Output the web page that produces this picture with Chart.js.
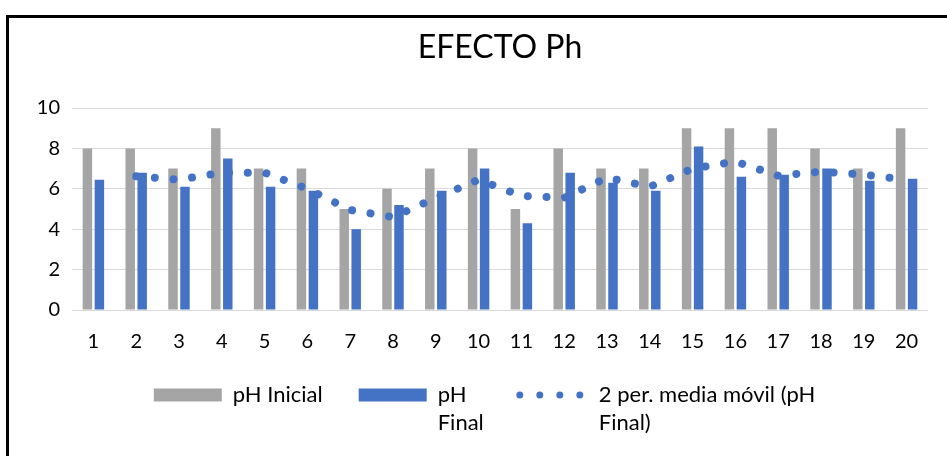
<!DOCTYPE html>
<html>
<head>
<meta charset="utf-8">
<script src="https://cdn.jsdelivr.net/npm/chart.js@4.4.1/dist/chart.umd.min.js"></script>
<style>
  html, body { margin: 0; padding: 0; background: #fff; overflow: hidden; }
  #wrap { position: relative; width: 947px; height: 456px; }
  #frame { position: absolute; left: 6px; top: 15px; width: 1000px; height: 500px;
           border: 3px solid #000; pointer-events: none; }
  canvas { position: absolute; left: 0; top: 0; }
</style>
</head>
<body>
<div id="wrap">
  <canvas id="myChart" width="947" height="456"></canvas>
  <div id="frame"></div>
</div>
<script>
// EFECTO Ph - pH inicial / final por muestra
const muestras = ['1','2','3','4','5','6','7','8','9','10','11','12','13','14','15','16','17','18','19','20'];
const phInicial = [8, 8, 7, 9, 7, 7, 5, 6, 7, 8, 5, 8, 7, 7, 9, 9, 9, 8, 7, 9];
const phFinal = [6.45, 6.8, 6.1, 7.5, 6.1, 5.9, 4.0, 5.2, 5.9, 7.0, 4.3, 6.8, 6.3, 5.9, 8.1, 6.6, 6.7, 7.0, 6.4, 6.5];
// media movil 2 periodos (no hay valor en el 1)
const mediaMovil = [null, 6.62, 6.45, 6.8, 6.8, 6.0, 4.95, 4.6, 5.55, 6.45, 5.65, 5.55, 6.55, 6.1, 7.0, 7.35, 6.65, 6.85, 6.7, 6.45];
const yTicks = [0, 2, 4, 6, 8, 10];

const GRIS = '#A5A5A5';
const AZUL = '#4472C4';
const fuente = 'Lato, Carlito, Calibri, sans-serif';

// texto de leyenda en varias lineas; el ancho se mide con la linea mas larga
function lineas(arr) {
  arr.toString = () => arr.reduce((a, b) => (a.length > b.length ? a : b));
  return arr;
}

// titulo centrado sobre el area del grafico, y la leyenda sin recortar la 2a linea
const ajustes = {
  id: 'ajustes',
  afterLayout(chart) {
    if (chart.titleBlock) {
      chart.titleBlock.left = chart.chartArea.left;
      chart.titleBlock.right = chart.chartArea.right;
    }
    if (chart.legend) {
      chart.legend.left = 41;
      chart.legend.bottom = chart.height;
    }
  }
};

var ctx = document.getElementById('myChart').getContext('2d');
var chart = new Chart(ctx, {
  type: 'bar',
  data: {
    labels: muestras,
    datasets: [
      {
        type: 'line',
        label: '2 per. media móvil (pH Final)',
        data: mediaMovil,
        borderColor: AZUL,
        borderWidth: 8,
        borderDash: [0.01, 18.7],
        borderCapStyle: 'round',
        pointRadius: 0,
        tension: 0,
        fill: false,
        order: 0
      },
      {
        label: 'pH Inicial',
        data: phInicial,
        backgroundColor: GRIS,
        categoryPercentage: 0.56,
        barPercentage: 0.79,
        order: 1
      },
      {
        label: 'pH Final',
        data: phFinal,
        backgroundColor: AZUL,
        categoryPercentage: 0.56,
        barPercentage: 0.79,
        order: 1
      }
    ]
  },
  plugins: [ajustes],
  options: {
    responsive: false,
    animation: false,
    layout: { padding: { left: 30, right: 19, top: 0, bottom: 40 } },
    plugins: {
      tooltip: { enabled: false },
      title: {
        display: true,
        text: 'EFECTO Ph',
        color: '#000',
        font: { family: fuente, size: 32, weight: 'normal', lineHeight: 1.2 },
        padding: { top: 28, bottom: 41.6 }
      },
      legend: {
        position: 'bottom',
        labels: {
          color: '#000',
          font: { family: fuente, size: 22, lineHeight: 1.25 },
          usePointStyle: true,
          pointStyleWidth: 68,
          boxHeight: 13,
          padding: 36,
          generateLabels: function() {
            return [
              { text: 'pH Inicial', fillStyle: GRIS, strokeStyle: GRIS, lineWidth: 0, pointStyle: 'rect', datasetIndex: 1 },
              { text: lineas(['pH', 'Final']), fillStyle: AZUL, strokeStyle: AZUL, lineWidth: 0, pointStyle: 'rect', datasetIndex: 2 },
              { text: lineas(['2 per. media móvil (pH', 'Final)']), fillStyle: 'rgba(0,0,0,0)', strokeStyle: AZUL,
                lineWidth: 7, lineDash: [0.01, 20], lineCap: 'round', pointStyle: 'line', datasetIndex: 0 }
            ];
          }
        }
      }
    },
    scales: {
      x: {
        afterFit: function(scale) { scale.height = 38; },
        grid: { display: false, drawTicks: false },
        border: { display: false },
        ticks: { color: '#000', font: { family: fuente, size: 20 }, padding: 20, maxRotation: 0 }
      },
      y: {
        min: 0,
        max: 10,
        afterFit: function(scale) { scale.width = 42; },
        afterBuildTicks: function(scale) { scale.ticks = yTicks.map(v => ({ value: v })); },
        grid: { color: '#D9D9D9', lineWidth: 1, drawTicks: false },
        border: { display: false },
        ticks: { color: '#000', font: { family: fuente, size: 20 }, padding: 12 }
      }
    }
  }
});
</script>
</body>
</html>
